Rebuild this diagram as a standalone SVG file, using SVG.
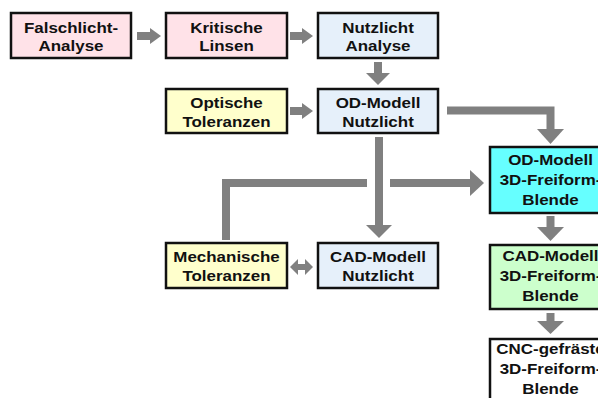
<svg xmlns="http://www.w3.org/2000/svg" width="598" height="398" viewBox="0 0 598 398">
<style>
.box{stroke:#111;stroke-width:2.5}
.pink{fill:#ffe2e8}.blue{fill:#e6f0fa}.yellow{fill:#ffffcc}.cyan{fill:#66ffff}.green{fill:#ccffcc}.white{fill:#ffffff}
.t{font-family:"Liberation Sans",Arial,sans-serif;font-weight:bold;font-size:15px;fill:#111;text-anchor:middle}
.ln{fill:none;stroke:#808080;stroke-width:8}
.hd{fill:#808080}
</style>
<rect width="598" height="398" fill="#ffffff"/>
<g id="connectors">
<path class="ln" d="M137 36H151"/><polygon class="hd" points="150,28 161,36 150,44"/>
<path class="ln" d="M290 36H303"/><polygon class="hd" points="302,28 313,36 302,44"/>
<path class="ln" d="M290 111H303"/><polygon class="hd" points="302,103 313,111 302,119"/>
<path class="ln" d="M378 62V74"/><polygon class="hd" points="366,73 378,85 390,73"/>
<path class="ln" d="M447 110.5H550.5V130"/><polygon class="hd" points="537,129 550.5,144 564,129"/>
<path class="ln" d="M379 137V226"/><polygon class="hd" points="366,225 379,238 392,225"/>
<path class="ln" d="M226 240V183H367"/>
<path class="ln" d="M390 183H471"/><polygon class="hd" points="470,170 484,183 470,196"/>
<path class="ln" d="M550.5 216V228"/><polygon class="hd" points="537,227 550.5,241 564,227"/>
<path class="ln" d="M550.5 313V322"/><polygon class="hd" points="537,321 550.5,334 564,321"/>
<polygon class="hd" points="290,267 298,259 298,264 305,264 305,259 313,267 305,275 305,270 298,270 298,275"/>
</g>
<g id="falschlicht"><rect class="box pink" x="11" y="13" width="120" height="45"/>
<g transform="translate(71,0) scale(1.13,1)"><text class="t" x="0" y="33">Falschlicht-</text><text class="t" x="0" y="51.5">Analyse</text></g></g>
<g id="kritische"><rect class="box pink" x="166" y="13" width="121" height="45"/>
<g transform="translate(226.5,0) scale(1.13,1)"><text class="t" x="0" y="33">Kritische</text><text class="t" x="0" y="51.5">Linsen</text></g></g>
<g id="nutzlicht-analyse"><rect class="box blue" x="318" y="13" width="120" height="45"/>
<g transform="translate(378,0) scale(1.13,1)"><text class="t" x="0" y="33">Nutzlicht</text><text class="t" x="0" y="51.5">Analyse</text></g></g>
<g id="optische"><rect class="box yellow" x="166" y="89" width="121" height="44"/>
<g transform="translate(226.5,0) scale(1.13,1)"><text class="t" x="0" y="108.5">Optische</text><text class="t" x="0" y="127">Toleranzen</text></g></g>
<g id="od-nutzlicht"><rect class="box blue" x="318" y="89" width="120" height="44"/>
<g transform="translate(378,0) scale(1.13,1)"><text class="t" x="0" y="108.5">OD-Modell</text><text class="t" x="0" y="127">Nutzlicht</text></g></g>
<g id="mechanische"><rect class="box yellow" x="166" y="243" width="121" height="45"/>
<g transform="translate(226.5,0) scale(1.13,1)"><text class="t" x="0" y="262.5">Mechanische</text><text class="t" x="0" y="281">Toleranzen</text></g></g>
<g id="cad-nutzlicht"><rect class="box blue" x="318" y="243" width="120" height="45"/>
<g transform="translate(378,0) scale(1.13,1)"><text class="t" x="0" y="262.5">CAD-Modell</text><text class="t" x="0" y="281">Nutzlicht</text></g></g>
<g id="od-freiform"><rect class="box cyan" x="490" y="147" width="120" height="66"/>
<g transform="translate(550.5,0) scale(1.13,1)"><text class="t" x="0" y="165.5">OD-Modell</text><text class="t" x="0" y="185.5">3D-Freiform-</text><text class="t" x="0" y="205.5">Blende</text></g></g>
<g id="cad-freiform"><rect class="box green" x="490" y="245" width="120" height="64"/>
<g transform="translate(550.5,0) scale(1.13,1)"><text class="t" x="0" y="261">CAD-Modell</text><text class="t" x="0" y="281">3D-Freiform-</text><text class="t" x="0" y="301">Blende</text></g></g>
<g id="cnc"><rect class="box white" x="490" y="339" width="120" height="70"/>
<g transform="translate(550.5,0) scale(1.13,1)"><text class="t" x="0" y="354">CNC-gefräste</text><text class="t" x="0" y="374">3D-Freiform-</text><text class="t" x="0" y="394">Blende</text></g></g>
</svg>
